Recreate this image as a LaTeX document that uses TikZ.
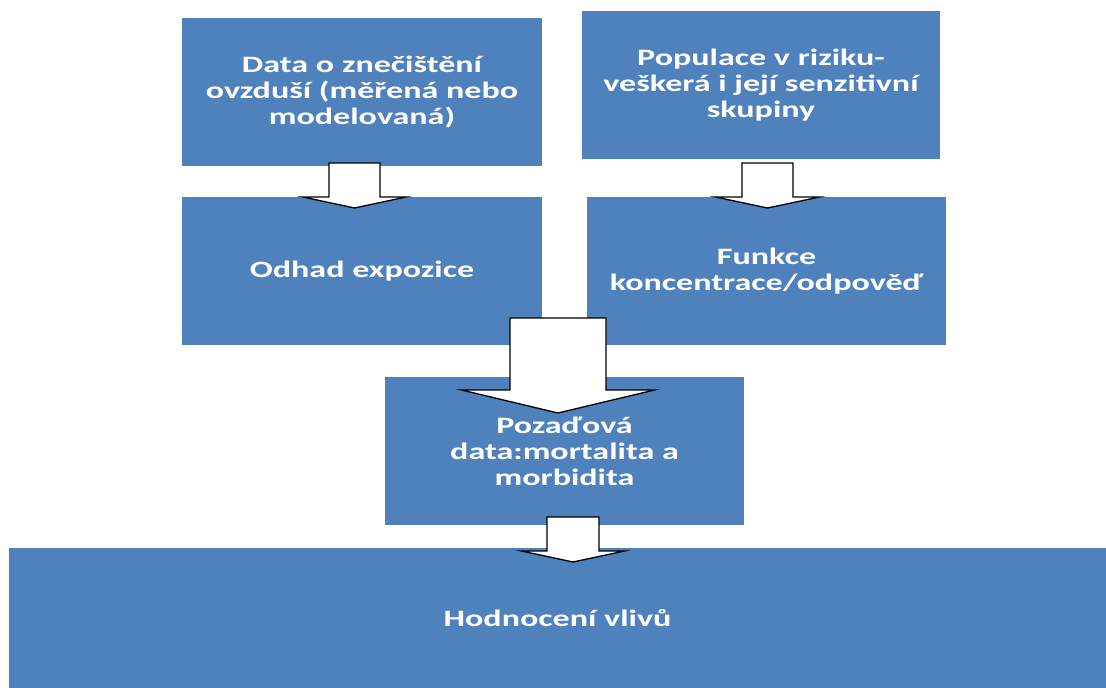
\documentclass[tikz,border=0pt]{standalone}
\usepackage{fontspec}
\setmainfont{Carlito}[FakeStretch=1.45]
\definecolor{boxblue}{HTML}{4F81BD}
\newcommand\blkarrow[6]{% cx, top, base, tip, shaft half width, head half width
  \draw[barrow] (#1-#5,#2) -- (#1+#5,#2) -- (#1+#5,#3) -- (#1+#6,#3) -- (#1,#4)
    -- (#1-#6,#3) -- (#1-#5,#3) -- cycle;}
\begin{document}
\begin{tikzpicture}[x=1pt,y=-1pt,
  box/.style={fill=boxblue, text=white, font=\bfseries\fontsize{23.5}{26}\selectfont,
    align=center, inner sep=0pt, minimum height=148pt},
  barrow/.style={draw=black, fill=white, line width=1.3pt, line join=miter}]
\useasboundingbox[fill=white] (0,0) rectangle (1106,688);
\node[box, minimum width=360pt] (b1) at (362,92)
  {Data o znečištění\\ovzduší (měřená nebo\\modelovaná)};
\node[box, minimum width=358pt] (b2) at (761,85)
  {Populace v riziku-\\veškerá i její senzitivní\\skupiny};
\node[box, minimum width=360pt] (b3) at (362,271) {Odhad expozice};
\node[box, minimum width=359pt] (b4) at (766.5,271)
  {Funkce\\koncentrace/odpověď};
\node[box, minimum width=359pt] (b5) at (564.5,451)
  {Pozaďová\\data:mortalita a\\morbidita};
\node[box, minimum width=1097pt, minimum height=140pt] (b6) at (557.5,618)
  {Hodnocení vlivů};
\blkarrow{354.5}{163}{197}{208}{25.5}{51.5}
\blkarrow{767.5}{163}{197}{208}{25.5}{52}
\blkarrow{558}{318}{390}{413}{48}{96.5}
\blkarrow{573}{517}{551}{562}{26}{51.5}
\end{tikzpicture}
\end{document}
